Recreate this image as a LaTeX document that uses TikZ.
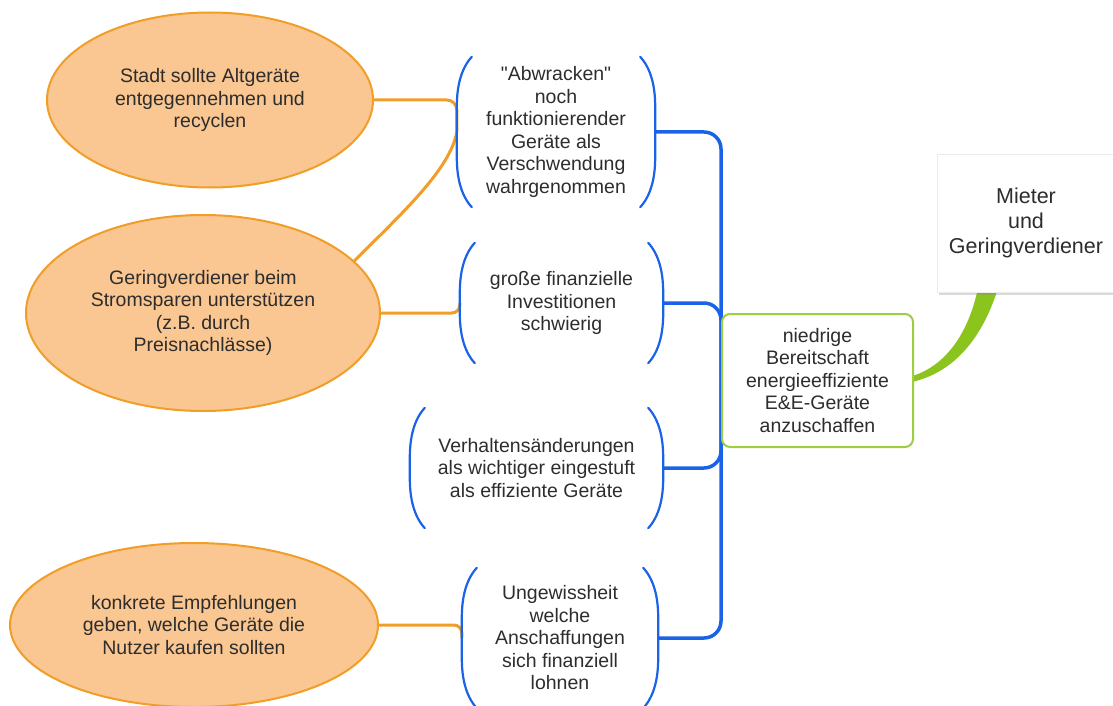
\documentclass[tikz,border=0pt]{standalone}
\usepackage{fontspec}
\setmainfont{Liberation Sans}[Ligatures=TeXOff]
\usetikzlibrary{shapes.geometric,shadows,calc}
\definecolor{orfill}{RGB}{250,198,145}
\definecolor{ordraw}{RGB}{240,158,40}
\definecolor{bluec}{RGB}{26,98,232}
\definecolor{greenc}{RGB}{140,196,30}
\definecolor{txt}{RGB}{45,45,45}
\pgfdeclarelayer{bg}
\pgfsetlayers{bg,main}
\newcommand\drawbrackets[1]{%
  \draw[brk] ([xshift=15pt]#1.north west) .. controls ([xshift=4pt,yshift=-12pt]#1.north west) and ([yshift=-30pt]#1.north west) .. ([yshift=-50pt]#1.north west)
    -- ([yshift=50pt]#1.south west) .. controls ([yshift=30pt]#1.south west) and ([xshift=4pt,yshift=12pt]#1.south west) .. ([xshift=15pt]#1.south west);
  \draw[brk] ([xshift=-15pt]#1.north east) .. controls ([xshift=-4pt,yshift=-12pt]#1.north east) and ([yshift=-30pt]#1.north east) .. ([yshift=-50pt]#1.north east)
    -- ([yshift=50pt]#1.south east) .. controls ([yshift=30pt]#1.south east) and ([xshift=-4pt,yshift=12pt]#1.south east) .. ([xshift=-15pt]#1.south east);
}
\begin{document}
\begin{tikzpicture}[x=1pt,y=-1pt,
  every node/.style={text=txt, font=\fontsize{19.5}{22.5}\selectfont, align=center, inner sep=0pt},
  idea/.style={ellipse, fill=orfill, draw=ordraw, line width=2pt},
  issue/.style={rectangle},
  brk/.style={draw=bluec, line width=2.2pt, line cap=round},
  blink/.style={draw=bluec, line width=3.5pt, rounded corners=17pt},
  olink/.style={draw=ordraw, line width=3pt, rounded corners=10pt},
  gbox/.style={rectangle, rounded corners=8pt, draw=greenc!85!white, line width=2pt, fill=white, minimum width=191pt, minimum height=133pt},
  rootbox/.style={rectangle, fill=white, draw=black!8, minimum width=178pt, minimum height=138pt,
    font=\fontsize{21.5}{25}\selectfont, drop shadow={shadow xshift=1.5pt, shadow yshift=-2.5pt, opacity=0.3}}
]
\useasboundingbox (0,0) rectangle (1113,706);

% ideas (ellipses)
\node[idea, minimum width=326pt, minimum height=175pt] (e1) at (210,100) {Stadt sollte Altgeräte\\entgegennehmen und\\recyclen};
\node[idea, minimum width=354pt, minimum height=196pt] (e2) at (203,313) {Geringverdiener beim\\Stromsparen unterstützen\\(z.B. durch\\Preisnachlässe)};
\node[idea, minimum width=368pt, minimum height=164pt] (e3) at (194,625) {konkrete Empfehlungen\\geben, welche Geräte die\\Nutzer kaufen sollten};

% issues (bracketed)
\node[issue, minimum width=198pt, minimum height=150pt] (n1) at (556,132) {"Abwracken"\\noch\\funktionierender\\Geräte als\\Verschwendung\\wahrgenommen};
\node[issue, minimum width=203pt, minimum height=120pt] (n2) at (561.5,303) {große finanzielle\\Investitionen\\schwierig};
\node[issue, minimum width=253pt, minimum height=120pt] (n3) at (536.5,468) {Verhaltensänderungen\\als wichtiger eingestuft\\als effiziente Geräte};
\node[issue, minimum width=196pt, minimum height=140pt] (n4) at (560,638) {Ungewissheit\\welche\\Anschaffungen\\sich finanziell\\lohnen};
\drawbrackets{n1}
\drawbrackets{n2}
\drawbrackets{n3}
\drawbrackets{n4}

% central green box and root
\node[gbox] (g) at (817.5,380.5) {niedrige\\Bereitschaft\\energieeffiziente\\E\&E-Geräte\\anzuschaffen};
\node[rootbox] (root) at (1026,223) {Mieter\\und\\Geringverdiener};

\begin{pgfonlayer}{bg}
  % blue connectors
  \draw[blink] (g.west) |- (n1.east);
  \draw[blink] (g.west) |- (n2.east);
  \draw[blink] (g.west) |- (n3.east);
  \draw[blink] (g.west) |- (n4.east);
  % orange connectors
  \draw[olink] (e1.east) -- (n1.west |- e1.east) -- (n1.west);
  \draw[olink] (n1.west) .. controls (450,170) and (400,215) .. (e2.19);
  \draw[olink, rounded corners=8pt] (e2.east) -| (n2.west);
  \draw[olink, rounded corners=8pt] (e3.east) -| (n4.west);
  % green branch
  \fill[greenc] ([xshift=-48pt,yshift=4pt]root.south) .. controls (968,335) and (945,365) .. ([yshift=5pt]g.east)
     -- ([yshift=-1pt]g.east) .. controls (960,370) and (985,330) .. ([xshift=-28pt,yshift=4pt]root.south) -- cycle;
\end{pgfonlayer}
\end{tikzpicture}
\end{document}
